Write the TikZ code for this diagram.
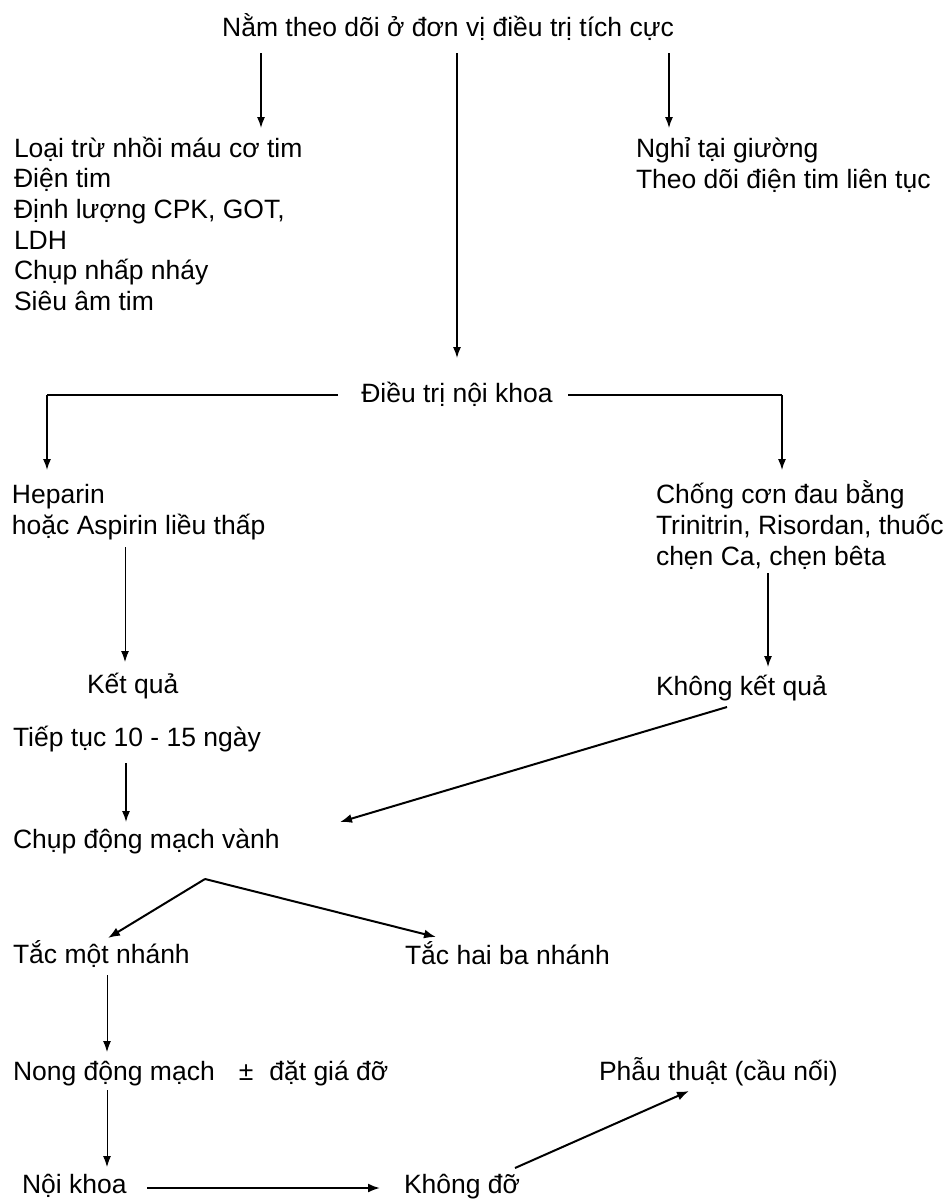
\documentclass[tikz,border=0pt]{standalone}
\usepackage{fontspec}
\setmainfont{Liberation Sans}
\usetikzlibrary{arrows.meta}
\begin{document}
\begin{tikzpicture}[x=1pt,y=-1pt,
  txt/.style={inner sep=0pt, outer sep=0pt, font=\fontsize{26.5}{30}\selectfont},
  lt/.style={txt, anchor=base west},
  ct/.style={txt, anchor=base},
  arr/.style={-{Latex[length=11pt,width=8pt]}, line width=1.3pt},
  tarr/.style={-{Latex[length=11pt,width=8pt]}, line width=1pt},
  barr/.style={-{Latex[length=12pt,width=9pt]}, line width=2pt},
  bline/.style={line width=2pt}]
\useasboundingbox[fill=white] (0,0) rectangle (947,1200);
% texts
\node[ct] (top) at (448,36) {Nằm theo dõi ở đơn vị điều trị tích cực};
\node[lt] (l1) at (14,157) {Loại trừ nhồi máu cơ tim};
\node[lt] (l2) at (14,187) {Điện tim};
\node[lt] (l3) at (14,218) {Định lượng CPK, GOT,};
\node[lt] (l4) at (14,249) {LDH};
\node[lt] (l5) at (14,279) {Chụp nhấp nháy};
\node[lt] (l6) at (14,310) {Siêu âm tim};
\node[lt] (r1) at (636,157) {Nghỉ tại giường};
\node[lt] (r2) at (636,188) {Theo dõi điện tim liên tục};
\node[ct] (dt) at (457,402) {Điều trị nội khoa};
\node[lt] (h1) at (12,503) {Heparin};
\node[lt] (h2) at (12,534) {hoặc Aspirin liều thấp};
\node[lt] (c1) at (656,503) {Chống cơn đau bằng};
\node[lt] (c2) at (656,534) {Trinitrin, Risordan, thuốc};
\node[lt] (c3) at (656,565) {chẹn Ca, chẹn bêta};
\node[lt] (kq) at (87,693) {Kết quả};
\node[lt] (kkq) at (656,695) {Không kết quả};
\node[lt] (tt) at (13,746) {Tiếp tục 10 - 15 ngày};
\node[lt] (cd) at (13,848) {Chụp động mạch vành};
\node[lt] (t1) at (13,963) {Tắc một nhánh};
\node[lt] (t2) at (405,964) {Tắc hai ba nhánh};
\node[lt] (nd) at (13,1080) {Nong động mạch\hspace{24pt}±\hspace{16pt}đặt giá đỡ};
\node[lt] (pt) at (599,1080) {Phẫu thuật (cầu nối)};
\node[lt] (nk) at (22,1193) {Nội khoa};
\node[lt] (kd) at (404,1193) {Không đỡ};
% connector end points
\coordinate (a1) at (261,53);  \coordinate (a1e) at (261,128);
\coordinate (a2) at (457,53);  \coordinate (a2e) at (457,358);
\coordinate (a3) at (669,53);  \coordinate (a3e) at (669,128);
\coordinate (dl) at (338,395); \coordinate (dlc) at (47,395); \coordinate (dle) at (47,470);
\coordinate (dr) at (568,395); \coordinate (drc) at (782,395); \coordinate (dre) at (782,470);
\coordinate (hs) at (125,547); \coordinate (he) at (125,662);
\coordinate (cs) at (768,573); \coordinate (ce) at (768,667);
\coordinate (ks) at (727,707); \coordinate (ke) at (340,822);
\coordinate (ts) at (126,763); \coordinate (te) at (126,822);
\coordinate (bp) at (205,879); \coordinate (b1) at (108,938); \coordinate (b2) at (436,937);
\coordinate (ms) at (107,975); \coordinate (me) at (107,1052);
\coordinate (ns) at (107,1090); \coordinate (ne) at (107,1167);
\coordinate (os) at (147,1188); \coordinate (oe) at (380,1188);
\coordinate (ps) at (515,1168); \coordinate (pe) at (689,1091);
% connectors
\draw[arr] (a1) -- (a1e);
\draw[arr] (a2) -- (a2e);
\draw[arr] (a3) -- (a3e);
\draw[bline] (dl) -- (dlc);
\draw[arr] (dlc) -- (dle);
\draw[bline] (dr) -- (drc);
\draw[arr] (drc) -- (dre);
\draw[tarr] (hs) -- (he);
\draw[arr] (cs) -- (ce);
\draw[barr] (ks) -- (ke);
\draw[arr] (ts) -- (te);
\draw[barr] (bp) -- (b1);
\draw[barr] (bp) -- (b2);
\draw[tarr] (ms) -- (me);
\draw[tarr] (ns) -- (ne);
\draw[barr] (os) -- (oe);
\draw[barr] (ps) -- (pe);
\end{tikzpicture}
\end{document}
